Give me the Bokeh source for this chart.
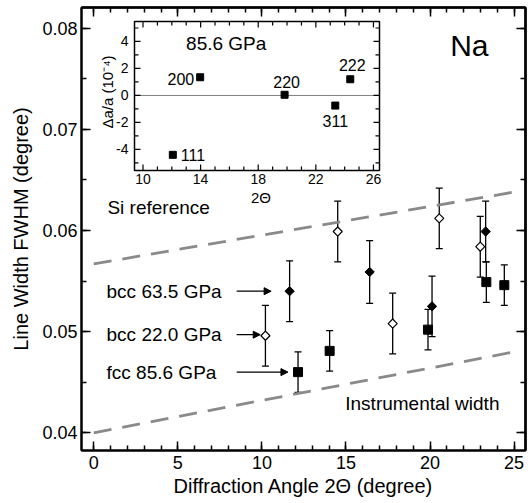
import numpy as np
from bokeh.plotting import figure
from bokeh.models import (Range1d, FixedTicker, LinearAxis, Whisker, ColumnDataSource,
                          Arrow, NormalHead, TeeHead)
from bokeh.core.properties import value
from bokeh.embed import file_html
from bokeh.resources import INLINE

FONT = "Liberation Sans"

# ---------------- main chart data ----------------
fcc_x = [12.15, 14.03, 19.88, 23.35, 24.42]
fcc_y = [0.0460, 0.0481, 0.0502, 0.0549, 0.0546]
fcc_err = [0.0020, 0.0020, 0.0020, 0.0020, 0.0020]

bcc635_x = [11.65, 16.41, 20.12, 23.31]
bcc635_y = [0.0540, 0.0559, 0.0525, 0.0599]
bcc635_err = [0.0030, 0.0031, 0.0030, 0.0030]

bcc220_x = [10.21, 14.51, 17.78, 20.55, 22.99]
bcc220_y = [0.0496, 0.0599, 0.0508, 0.0612, 0.0584]
bcc220_err = [0.0030, 0.0030, 0.0030, 0.0030, 0.0030]

si_ref_x = [0, 25]
si_ref_y = [0.0567, 0.0638]
instr_x = [0, 25]
instr_y = [0.0400, 0.0480]

series_labels = ["bcc 63.5 GPa", "bcc 22.0 GPa", "fcc 85.6 GPa"]
series_label_x = [0.76, 0.76, 0.76]
series_label_y = [0.0540, 0.0497, 0.0460]
arrow_x_start = [8.5, 8.5, 8.5]
arrow_x_end = [10.55, 9.9, 11.55]

x_ticks = [0, 5, 10, 15, 20, 25]
x_minor = list(range(-1, 27))
y_ticks = [0.04, 0.05, 0.06, 0.07, 0.08]
y_minor = [0.035, 0.04, 0.045, 0.05, 0.055, 0.06, 0.065, 0.07, 0.075, 0.08, 0.085]

# ---------------- inset data ----------------
inset_x = [12.07, 13.97, 19.83, 23.35, 24.39]
inset_y = [-4.40, 1.35, 0.05, -0.75, 1.20]
inset_hkl = ["111", "200", "220", "311", "222"]
inset_x_ticks = [10, 14, 18, 22, 26]
inset_x_minor = [11, 12, 13, 15, 16, 17, 19, 20, 21, 23, 24, 25]
inset_y_ticks = [-4, -2, 0, 2, 4]
inset_y_minor = [-5, -3, -1, 1, 3, 5]
inset_x_lim = (9.41, 26.42)
inset_y_lim = (-5.56, 5.48)

# label placement (styles)
hkl_align = ["left", "right", "center", "center", "center"]
hkl_baseline = ["middle", "middle", "bottom", "top", "bottom"]
hkl_xoff = [8, -6, 2, 0, 2]
hkl_yoff = [0, 2, -7, 9, -8]

# ---------------- layout (pixels) ----------------
W, H = 530, 502
BL, BR, BT, BB = 81, 5, 7, 52
FRAME_W = W - BL - BR
FRAME_H = H - BT - BB
# inset frame box, in pixels inside the main frame
IN_L, IN_R, IN_T, IN_B = 53, 298, 14, 163

ix0, ix1 = inset_x_lim
iy0, iy1 = inset_y_lim
ux = (ix1 - ix0) / (IN_R - IN_L)
uy = (iy1 - iy0) / (IN_B - IN_T)

p = figure(width=W, height=H,
           x_range=Range1d(-0.73, 25.68), y_range=Range1d(0.03825, 0.08205),
           output_backend="svg", toolbar_location=None,
           min_border_left=BL, min_border_right=BR, min_border_top=BT, min_border_bottom=BB)
p.extra_x_ranges = {"ix": Range1d(ix0 - IN_L * ux, ix1 + (FRAME_W - IN_R) * ux)}
p.extra_y_ranges = {"iy": Range1d(iy0 - (FRAME_H - IN_B) * uy, iy1 + IN_T * uy)}
p.xgrid.visible = False
p.ygrid.visible = False
p.outline_line_color = "black"
p.outline_line_width = 2


def style_axis(ax, ticks, minor):
    ax.ticker = FixedTicker(ticks=ticks, minor_ticks=minor)
    ax.axis_line_width = 2
    ax.axis_line_color = "black"
    ax.major_tick_in = 9
    ax.major_tick_out = 0
    ax.minor_tick_in = 5
    ax.minor_tick_out = 0
    ax.major_tick_line_width = 1.5
    ax.minor_tick_line_width = 1.5
    ax.major_tick_line_color = "black"
    ax.minor_tick_line_color = "black"
    ax.major_label_text_font = FONT
    ax.major_label_text_font_size = "18px"
    ax.major_label_text_color = "black"
    ax.axis_label_text_font = FONT
    ax.axis_label_text_font_style = "normal"
    ax.axis_label_text_color = "black"
    ax.axis_label_text_font_size = "20px"


def mirror_axes(loc, major, minor):
    """Tick-only axes (no labels) along the top / right frame edges."""
    for pos, length in ((major, 9), (minor, 5)):
        ax = LinearAxis(ticker=FixedTicker(ticks=[], minor_ticks=pos))
        ax.major_tick_in = 0
        ax.major_tick_out = 0
        ax.major_label_standoff = 0
        ax.minor_tick_in = length
        ax.minor_tick_out = 0
        ax.minor_tick_line_width = 1.5
        ax.minor_tick_line_color = "black"
        ax.axis_line_width = 2
        ax.axis_line_color = "black"
        p.add_layout(ax, loc)


xa = p.xaxis[0]
style_axis(xa, x_ticks, x_minor)
xa.axis_label = "Diffraction Angle 2Θ (degree)"
xa.major_label_standoff = 5
xa.axis_label_standoff = 3

ya = p.yaxis[0]
style_axis(ya, y_ticks, y_minor)
ya.axis_label = "Line Width FWHM (degree)"
ya.major_label_standoff = 4
ya.axis_label_standoff = 7

mirror_axes("above", x_ticks, x_minor)
mirror_axes("right", y_ticks, y_minor)

# ---------------- inset background ----------------
IN = dict(x_range_name="ix", y_range_name="iy")
p.quad(left=[ix0], right=[ix1], bottom=[iy0], top=[iy1], fill_color="white",
       line_color=None, **IN)

# dashed reference lines
p.line(si_ref_x, si_ref_y, line_color="#8a8a8a", line_width=2.8, line_dash="18 11")
p.line(instr_x, instr_y, line_color="#8a8a8a", line_width=2.8, line_dash="18 11")


def add_errors(xs, ys, errs):
    src = ColumnDataSource(dict(x=xs, lo=[y - e for y, e in zip(ys, errs)],
                                hi=[y + e for y, e in zip(ys, errs)]))
    w = Whisker(source=src, base="x", lower="lo", upper="hi", dimension="height",
                line_color="black", line_width=1.3,
                upper_head=TeeHead(size=7, line_width=1.3, line_color="black"),
                lower_head=TeeHead(size=7, line_width=1.3, line_color="black"))
    p.add_layout(w)


add_errors(fcc_x, fcc_y, fcc_err)
add_errors(bcc635_x, bcc635_y, bcc635_err)
add_errors(bcc220_x, bcc220_y, bcc220_err)

p.scatter(fcc_x, fcc_y, marker="square", size=9, fill_color="black", line_color="black")
p.scatter(bcc635_x, bcc635_y, marker="square", angle=np.pi / 4, size=6.6,
          fill_color="black", line_color="black")
p.scatter(bcc220_x, bcc220_y, marker="square", angle=np.pi / 4, size=6.4,
          fill_color="white", line_color="black", line_width=1.2)

# series labels with arrows
lab_src = ColumnDataSource(dict(x=series_label_x, y=series_label_y, t=series_labels,
                                x0=arrow_x_start, x1=arrow_x_end))
p.text(x="x", y="y", text="t", source=lab_src, text_font=value(FONT),
       text_font_size="19px", text_baseline="middle", text_align="left", text_color="black")
p.add_layout(Arrow(source=lab_src, x_start="x0", y_start="y", x_end="x1", y_end="y",
                   line_color="black", line_width=1.2,
                   end=NormalHead(size=7, fill_color="black", line_color="black", line_width=1)))

p.text(x=[0.81], y=[0.0623], text=["Si reference"], text_font=value(FONT),
       text_font_size="19px", text_baseline="middle", text_align="left")
p.text(x=[14.96], y=[0.0429], text=["Instrumental width"], text_font=value(FONT),
       text_font_size="19px", text_baseline="middle", text_align="left")
p.text(x=[21.2], y=[0.0783], text=["Na"], text_font=value(FONT),
       text_font_size="30px", text_baseline="middle", text_align="left")

# ---------------- inset frame, ticks and labels ----------------
p.quad(left=[ix0], right=[ix1], bottom=[iy0], top=[iy1], fill_color=None,
       line_color="black", line_width=1.5, **IN)
p.segment(x0=[ix0], x1=[ix1], y0=[0], y1=[0], line_color="#808080", line_width=1, **IN)

tx0, tx1, ty0, ty1 = [], [], [], []
for ticks, n in ((inset_x_ticks, 6), (inset_x_minor, 4)):
    for t in ticks:
        tx0 += [t, t]; tx1 += [t, t]
        ty0 += [iy0, iy1]; ty1 += [iy0 + n * uy, iy1 - n * uy]
for ticks, n in ((inset_y_ticks, 6), (inset_y_minor, 4)):
    for t in ticks:
        ty0 += [t, t]; ty1 += [t, t]
        tx0 += [ix0, ix1]; tx1 += [ix0 + n * ux, ix1 - n * ux]
p.segment(x0=tx0, x1=tx1, y0=ty0, y1=ty1, line_color="black", line_width=1.2, **IN)

p.text(x=inset_x_ticks, y=[iy0] * len(inset_x_ticks), text=[str(t) for t in inset_x_ticks],
       y_offset=3, text_align="center", text_baseline="top", text_font=value(FONT),
       text_font_size="14px", text_color="black", **IN)
p.text(x=[ix0] * len(inset_y_ticks), y=inset_y_ticks, text=[str(t) for t in inset_y_ticks],
       x_offset=-6, text_align="right", text_baseline="middle", text_font=value(FONT),
       text_font_size="14px", text_color="black", **IN)
p.text(x=[(ix0 + ix1) / 2], y=[iy0], text=["2Θ"], x_offset=4, y_offset=27,
       text_align="center", text_baseline="middle", text_font=value(FONT),
       text_font_size="15px", **IN)
p.text(x=[ix0], y=[(iy0 + iy1) / 2], text=["Δa/a (10⁻⁴)"], x_offset=-27, y_offset=-4,
       angle=np.pi / 2, text_align="center", text_baseline="middle", text_font=value(FONT),
       text_font_size="15px", **IN)

isrc = ColumnDataSource(dict(x=inset_x, y=inset_y, t=inset_hkl, al=hkl_align,
                             bl=hkl_baseline, xo=hkl_xoff, yo=hkl_yoff))
p.scatter(x="x", y="y", source=isrc, marker="square", size=7,
          fill_color="black", line_color="black", **IN)
p.text(x="x", y="y", text="t", source=isrc, text_align="al", text_baseline="bl",
       x_offset="xo", y_offset="yo", text_font=value(FONT), text_font_size="16px", **IN)
p.text(x=[12.99], y=[3.85], text=["85.6 GPa"], text_font=value(FONT),
       text_font_size="19px", text_baseline="middle", text_align="left", **IN)

open("out.html", "w").write(file_html(p, INLINE))
